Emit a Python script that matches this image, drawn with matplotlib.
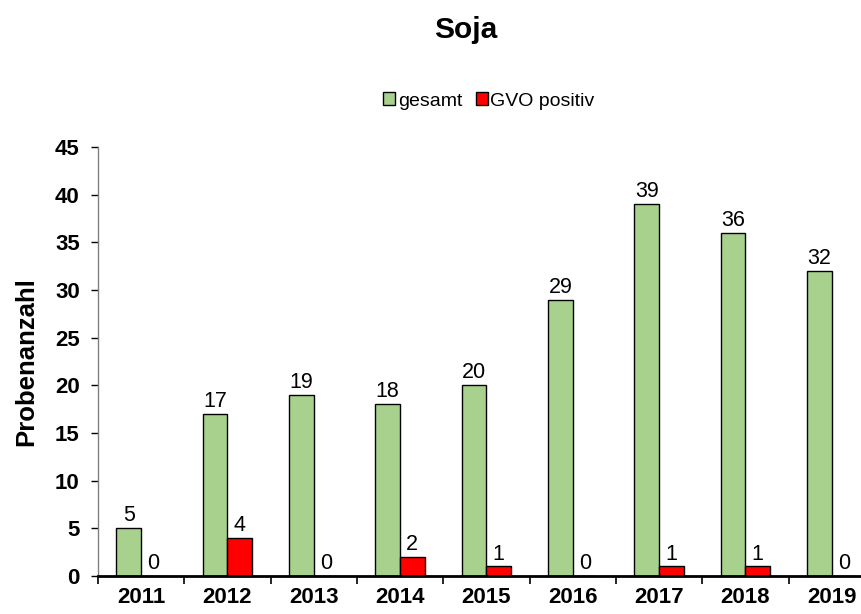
import matplotlib
matplotlib.use("Agg")
import matplotlib.pyplot as plt
import numpy as np

plt.rcParams['font.family'] = ['Liberation Sans', 'DejaVu Sans']

years = ['2011', '2012', '2013', '2014', '2015', '2016', '2017', '2018', '2019']
gesamt = [5, 17, 19, 18, 20, 29, 39, 36, 32]
gvo_positiv = [0, 4, 0, 2, 1, 0, 1, 1, 0]


def main():
    fig = plt.figure(figsize=(8.61, 6.14), dpi=100)
    ax = fig.add_axes([97.8 / 861, 38 / 614, (875 - 97.8) / 861, (576 - 147) / 614])

    x = np.arange(len(years))
    w = 0.285
    b1 = ax.bar(x - w / 2, gesamt, w, color='#A9D18E', edgecolor='black', linewidth=1, label='gesamt')
    b2 = ax.bar(x + w / 2, gvo_positiv, w, color='#FF0000', edgecolor='black', linewidth=1, label='GVO positiv')

    for rects, vals in ((b1, gesamt), (b2, gvo_positiv)):
        for r, v in zip(rects, vals):
            ax.text(r.get_x() + r.get_width() / 2, v + 0.2, str(v), ha='center', va='bottom', fontsize=15.5)

    ax.set_xlim(-0.5, len(years) - 0.5)
    ax.set_ylim(0, 45)
    ax.set_yticks(np.arange(0, 46, 5))
    ax.set_xticks(x)
    ax.set_xticklabels(years)
    ax.set_xticks(np.arange(-0.5, len(years), 1), minor=True)
    ax.tick_params(axis='x', which='major', length=0, pad=8, labelsize=16)
    ax.tick_params(axis='x', which='minor', length=6, width=1.2, color='black')
    ax.tick_params(axis='y', length=5, width=1, pad=8, labelsize=16)
    for lab in ax.get_xticklabels() + ax.get_yticklabels():
        lab.set_fontweight('bold')

    ax.spines['top'].set_visible(False)
    ax.spines['right'].set_visible(False)
    ax.spines['left'].set_color('#808080')
    ax.spines['left'].set_linewidth(1)
    ax.spines['bottom'].set_linewidth(2)

    ax.set_ylabel('Probenanzahl', fontsize=18.5, fontweight='bold', labelpad=12)

    fig.text(466 / 861, 1 - 30 / 614, 'Soja', ha='center', va='center', fontsize=21.5, fontweight='bold')
    fig.legend(loc='center', bbox_to_anchor=(489 / 861, 1 - 101 / 614), ncol=2, frameon=False,
               fontsize=14, handlelength=0.6, handleheight=0.6, handletextpad=0.15, columnspacing=0.7)

    fig.savefig('out.png', dpi=100)


if __name__ == "__main__": main()
